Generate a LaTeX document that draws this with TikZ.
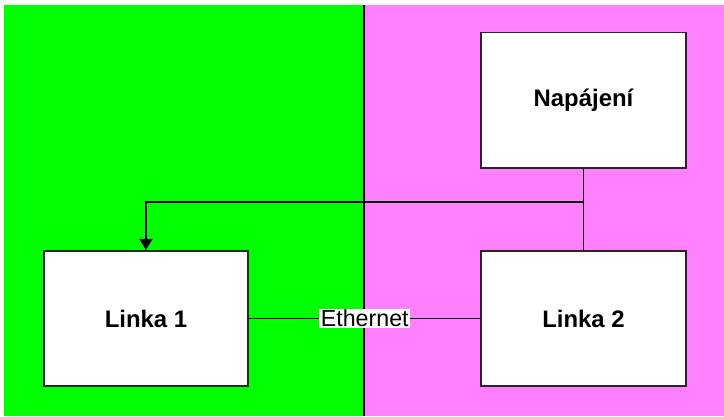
\documentclass[tikz,border=0pt]{standalone}
\usepackage{fontspec}
\setmainfont{Liberation Sans}
\usetikzlibrary{arrows.meta}
\definecolor{zonegreen}{HTML}{00FF00}
\definecolor{zonepink}{HTML}{FF80FF}
\tikzset{x=0.025cm, y=-0.025cm,
    block/.style={
        draw=black!85,
        line width=1.4pt,
        fill=white,
        minimum width=5.1cm,
        minimum height=3.375cm,
        font=\fontsize{17}{20}\selectfont\bfseries},
    wire/.style={
        draw=black,
        line width=1.4pt},
    >={Triangle[length=0.28cm,width=0.32cm]}}

\begin{document}
\begin{tikzpicture}
        \useasboundingbox (0,0) rectangle (724,416);
        \fill[zonegreen] (4,5) rectangle (364,416);
        \fill[zonepink] (364,5) rectangle (724,416);
        \draw[wire] (364,5) -- (364,416);

        \node[block] (linka1) at (146,318.5) {Linka 1};
        \node[block] (linka2) at (583.5,318.5) {Linka 2};
        \node[block] (napajeni) at (583.5,100) {Napájení};

        \coordinate (odbocka) at (583.5,202);

        \draw[wire] (napajeni) -- (linka2);
        \draw[wire,->] (odbocka) -| (linka1);
        \draw[wire] (linka1) -- node[fill=white, inner sep=1pt,
            font=\fontsize{16.5}{20}\selectfont] {Ethernet} (linka2);
    \end{tikzpicture}
\end{document}
